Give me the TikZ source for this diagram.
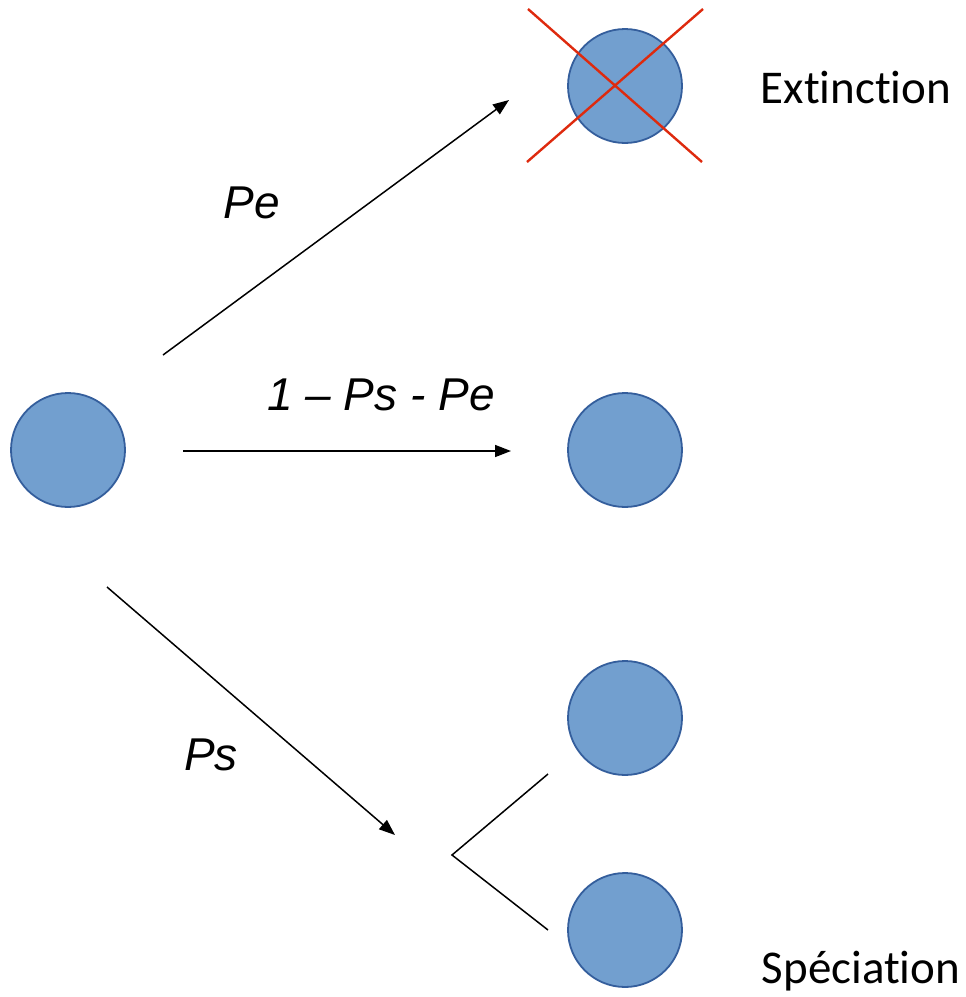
\documentclass[tikz,border=0pt]{standalone}
\usepackage{fontspec}
\setmainfont{Liberation Sans}
\newfontfamily\calfont[Ligatures={NoCommon}]{Carlito}
\usetikzlibrary{arrows.meta}
\definecolor{cfill}{RGB}{114,159,207}
\definecolor{cline}{RGB}{52,94,156}
\definecolor{xred}{RGB}{222,42,14}
\tikzset{
  species/.style={circle, minimum size=114pt, inner sep=0pt, fill=cfill, draw=cline, line width=1.8pt},
  arr/.style={line width=1.5pt, -{Triangle[length=16pt,width=12pt]}},
  fork/.style={line width=1.5pt},
  cross/.style={xred, line width=2.4pt},
  prob/.style={font=\fontsize{46}{54}\selectfont\itshape, inner sep=0pt, anchor=base},
  lab/.style={font=\calfont\fontsize{47}{56}\selectfont, inner sep=0pt, anchor=base}
}
\begin{document}
\begin{tikzpicture}[x=1pt,y=-1pt]
\useasboundingbox (0,0) rectangle (966,997);
% circles
\node[species] (src) at (68,450) {};
\node[species] (ext) at (625,86) {};
\node[species] (stay) at (625,450) {};
\node[species] (sp1) at (625,718) {};
\node[species] (sp2) at (625,930) {};
% red cross
\coordinate (x1) at (528,9);
\coordinate (x2) at (702,162);
\coordinate (x3) at (703,9);
\coordinate (x4) at (527,162);
\draw[cross] (x1) -- (x2);
\draw[cross] (x3) -- (x4);
% arrows
\coordinate (a1s) at (163,355);
\coordinate (a1e) at (509,100);
\coordinate (a2s) at (183,451);
\coordinate (a2e) at (511,451);
\coordinate (a3s) at (107,587);
\coordinate (a3e) at (395,835);
\draw[arr] (a1s) -- (a1e);
\draw[arr] (a2s) -- (a2e);
\draw[arr] (a3s) -- (a3e);
% fork
\coordinate (fv) at (452,855);
\coordinate (ft) at (548,774);
\coordinate (fb) at (548,930);
\draw[fork] (ft) -- (fv) -- (fb);
% labels
\node[prob] (lpe) at (252,218) {Pe};
\node[prob] (lmid) at (381,410) {1 – Ps - Pe};
\node[prob] (lps) at (211,770) {Ps};
\node[lab] (lext) at (856,103) {Extinction};
\node[lab] (lspe) at (861,983) {Spéciation};
\end{tikzpicture}
\end{document}
